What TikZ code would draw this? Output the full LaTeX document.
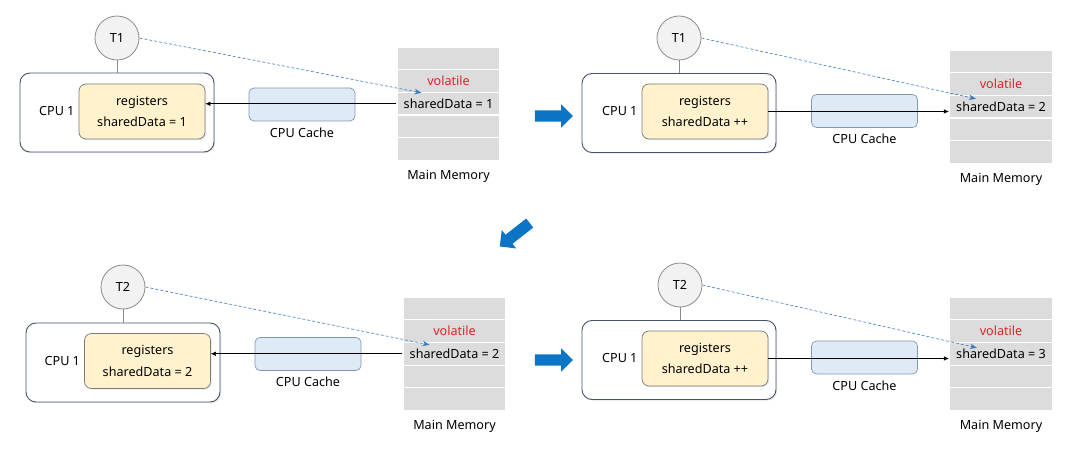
\documentclass[tikz,border=0pt]{standalone}
\usepackage{fontspec}
\setmainfont{Noto Sans}
\usepackage{tikz}
\usetikzlibrary{arrows.meta,positioning,shapes,shadows}
\definecolor{cpuline}{HTML}{44546E}
\definecolor{regline}{HTML}{7A7A7A}
\definecolor{regfill}{HTML}{FFF2CC}
\definecolor{cacheline}{HTML}{8497B0}
\definecolor{cachefill}{HTML}{DEEBF7}
\definecolor{threadline}{HTML}{8C8C8C}
\definecolor{threadfill}{HTML}{F2F2F2}
\definecolor{memfill}{HTML}{DCDCDC}
\definecolor{volred}{HTML}{E8202A}
\definecolor{linkblue}{HTML}{3A7BBF}
\definecolor{bigblue}{HTML}{0B74C4}

\begin{document}
\begin{tikzpicture}[x=1pt,y=-1pt,font=\fontsize{12.6}{21.5}\selectfont,
thread/.style={circle,draw=threadline,fill=threadfill,line width=0.8pt,minimum size=44pt,inner sep=0},
cpubox/.style={draw=cpuline,fill=white,rounded corners=10pt,line width=0.9pt,minimum width=194pt,minimum height=79pt,drop shadow={opacity=0.18,shadow xshift=1.2pt,shadow yshift=-1.2pt}},
regbox/.style={draw=regline,fill=regfill,rounded corners=7pt,line width=0.7pt,align=center,minimum width=126pt,minimum height=55pt,drop shadow={opacity=0.18,shadow xshift=1.2pt,shadow yshift=-1.2pt}},
cachebox/.style={draw=cacheline,fill=cachefill,rounded corners=5pt,line width=0.7pt,minimum width=106pt,minimum height=33pt},
memrow/.style={draw=white,fill=memfill,line width=1.2pt,minimum width=103pt,minimum height=22.7pt,inner sep=0},
note/.style={inner sep=0},
bigarrow/.style={single arrow,fill=bigblue,minimum height=38pt,single arrow head extend=6pt,inner sep=5.5pt},
flow/.style={-{Latex[length=5pt,width=4.5pt]},line width=0.6pt},
link/.style={dashed,dash pattern=on 3pt off 2pt,linkblue,-{Stealth[length=7pt,width=5.5pt]},line width=0.6pt}]
\useasboundingbox (0,0) rectangle (1077,457);

\foreach \p/\mx/\my in {a/448.5/47,b/1001/50,c/454.5/297,d/1001/297}
\foreach \i in {1,...,5}
\node[memrow] (mem\p\i) at (\mx,\my+11.35+22.7*\i-22.7) {};

\node[thread] (thra) at (117,38) {T1};
\node[cpubox] (cpua) at (117,112.5) {};
\node[regbox] (rega) at (142,111.5) {registers\\sharedData = 1};
\node[cachebox] (cachea) at (302,104.5) {};
\node[left=4pt of rega,note] (cpulba) {CPU 1};
\node[below=6pt of cachea,note] (cachelba) {CPU Cache};
\node[text=volred] (vola) at (mema2) {volatile};
\node (dataa) at (mema3) {sharedData = 1};
\node[below=9pt of mema5,note] (mma) {Main Memory};
\draw[line width=0.7pt,threadline] (thra.south) -- (thra.south |- cpua.north);
\draw[flow] (mema3.west) -- (rega.east |- mema3.west);
\draw[link] (thra.east) -- ([xshift=25pt,yshift=-1pt]mema3.north west);

\node[thread] (thrb) at (679,38) {T1};
\node[cpubox] (cpub) at (679,113) {};
\node[regbox] (regb) at (705,111.5) {registers\\sharedData ++};
\node[cachebox] (cacheb) at (864.5,111) {};
\node[left=4pt of regb,note] (cpulbb) {CPU 1};
\node[below=6pt of cacheb,note] (cachelbb) {CPU Cache};
\node[text=volred] (volb) at (memb2) {volatile};
\node (datab) at (memb3) {sharedData = 2};
\node[below=9pt of memb5,note] (mmb) {Main Memory};
\draw[line width=0.7pt,threadline] (thrb.south) -- (thrb.south |- cpub.north);
\draw[flow] (regb.east) -- (regb.east -| memb3.west);
\draw[link] (thrb.east) -- ([xshift=27pt,yshift=-4pt]memb3.north west);

\node[thread] (thrc) at (123,287) {T2};
\node[cpubox] (cpuc) at (123,362.5) {};
\node[regbox] (regc) at (147.5,361) {registers\\sharedData = 2};
\node[cachebox] (cachec) at (308,354) {};
\node[left=4pt of regc,note] (cpulbc) {CPU 1};
\node[below=6pt of cachec,note] (cachelbc) {CPU Cache};
\node[text=volred] (volc) at (memc2) {volatile};
\node (datac) at (memc3) {sharedData = 2};
\node[below=9pt of memc5,note] (mmc) {Main Memory};
\draw[line width=0.7pt,threadline] (thrc.south) -- (thrc.south |- cpuc.north);
\draw[flow] (memc3.west) -- (regc.east |- memc3.west);
\draw[link] (thrc.east) -- ([xshift=27pt,yshift=-3pt]memc3.north west);

\node[thread] (thrd) at (680,285) {T2};
\node[cpubox] (cpud) at (679,360) {};
\node[regbox] (regd) at (705,358.5) {registers\\sharedData ++};
\node[cachebox] (cached) at (864.5,357.5) {};
\node[left=4pt of regd,note] (cpulbd) {CPU 1};
\node[below=6pt of cached,note] (cachelbd) {CPU Cache};
\node[text=volred] (vold) at (memd2) {volatile};
\node (datad) at (memd3) {sharedData = 3};
\node[below=9pt of memd5,note] (mmd) {Main Memory};
\draw[line width=0.7pt,threadline] (thrd.south) -- (thrd.south |- cpud.north);
\draw[flow] (regd.east) -- (regd.east -| memd3.west);
\draw[link] (thrd.east) -- ([xshift=28pt,yshift=-6pt]memd3.north west);

\node[bigarrow] (stepab) at (551,116) {};
\node[bigarrow,rotate=218] (stepbc) at (517,233) {};
\node[bigarrow] (stepcd) at (551,360) {};
\end{tikzpicture}
\end{document}
